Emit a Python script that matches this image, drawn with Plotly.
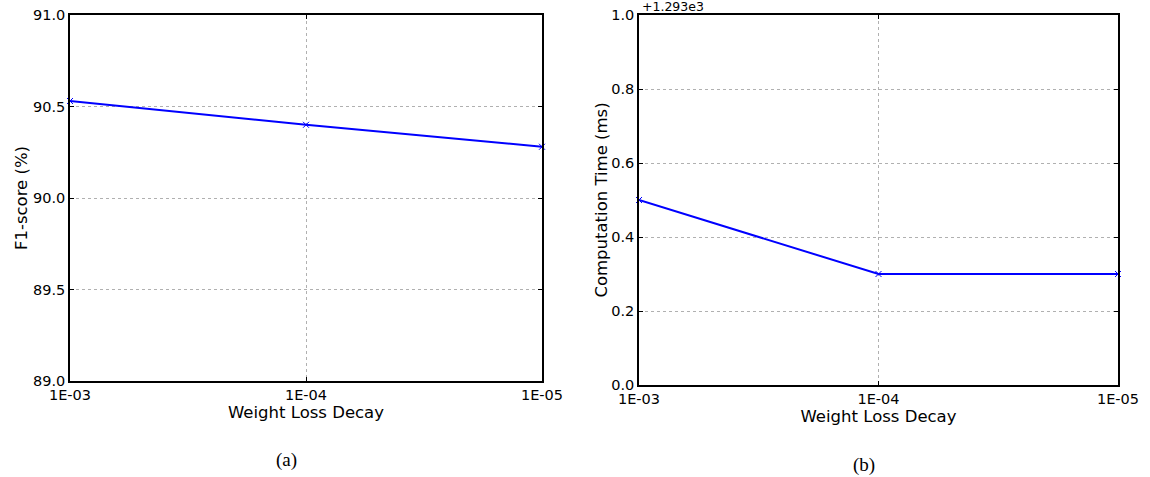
import plotly.graph_objects as go

decay_labels = ["1E-03", "1E-04", "1E-05"]
f1_scores = [90.53, 90.40, 90.28]
comp_time_offset = [0.5, 0.3, 0.3]  # ms, relative to +1.293e3

W, H = 1150, 477
def px_x(v): return v / W
def px_y(v): return 1 - v / H

fig = go.Figure()
xs = list(range(len(decay_labels)))

fig.add_trace(go.Scatter(x=xs, y=f1_scores, mode="lines+markers",
                         line=dict(color="#0000ff", width=2),
                         marker=dict(symbol="x-thin", size=6, line=dict(color="#0000ff", width=1)),
                         xaxis="x", yaxis="y", showlegend=False, cliponaxis=False))
fig.add_trace(go.Scatter(x=xs, y=comp_time_offset, mode="lines+markers",
                         line=dict(color="#0000ff", width=2),
                         marker=dict(symbol="x-thin", size=6, line=dict(color="#0000ff", width=1)),
                         xaxis="x2", yaxis="y2", showlegend=False, cliponaxis=False))

font = dict(family="DejaVu Sans", size=14.5, color="black")
tfont = dict(family="DejaVu Sans", size=16.5, color="black")
axis_common = dict(showline=True, linecolor="black", linewidth=1.5, mirror="ticks",
                   ticks="inside", ticklen=4, tickcolor="black",
                   showgrid=True, gridcolor="#b0b0b0", griddash="dot", gridwidth=0.8,
                   zeroline=False, tickfont=font, automargin=False)

fig.update_layout(
    width=W, height=H, margin=dict(l=0, r=0, t=0, b=0, autoexpand=False),
    paper_bgcolor="white", plot_bgcolor="white",
    xaxis=dict(axis_common, domain=[px_x(70), px_x(542)], range=[0, 2],
               tickvals=xs, ticktext=decay_labels, anchor="y",
               title=dict(text="Weight Loss Decay", font=tfont, standoff=1)),
    yaxis=dict(axis_common, domain=[px_y(381), px_y(15)], range=[89.0, 91.0],
               tickvals=[89.0, 89.5, 90.0, 90.5, 91.0], tickformat=".1f", anchor="x",
               title=dict(text="F1-score (%)", font=tfont, standoff=1)),
    xaxis2=dict(axis_common, domain=[px_x(639), px_x(1118)], range=[0, 2],
                tickvals=xs, ticktext=decay_labels, anchor="y2",
                title=dict(text="Weight Loss Decay", font=tfont, standoff=1)),
    yaxis2=dict(axis_common, domain=[px_y(385), px_y(15)], range=[0.0, 1.0],
                tickvals=[0.0, 0.2, 0.4, 0.6, 0.8, 1.0], tickformat=".1f", anchor="x2",
                title=dict(text="Computation Time (ms)", font=tfont, standoff=0)),
    annotations=[
        dict(text="+1.293e3", x=px_x(640), y=px_y(15), xref="paper", yref="paper",
             xanchor="left", yanchor="bottom", showarrow=False, yshift=-1,
             font=dict(family="DejaVu Sans", size=12.5, color="black")),
        dict(text="(a)", x=px_x(286), y=px_y(460), xref="paper", yref="paper",
             xanchor="center", yanchor="middle", showarrow=False,
             font=dict(family="Liberation Serif", size=19, color="black")),
        dict(text="(b)", x=px_x(864), y=px_y(465), xref="paper", yref="paper",
             xanchor="center", yanchor="middle", showarrow=False,
             font=dict(family="Liberation Serif", size=19, color="black")),
    ],
)

fig.write_html("out.html", config={"displayModeBar": False},
               post_script="document.body.style.margin='0px';")
